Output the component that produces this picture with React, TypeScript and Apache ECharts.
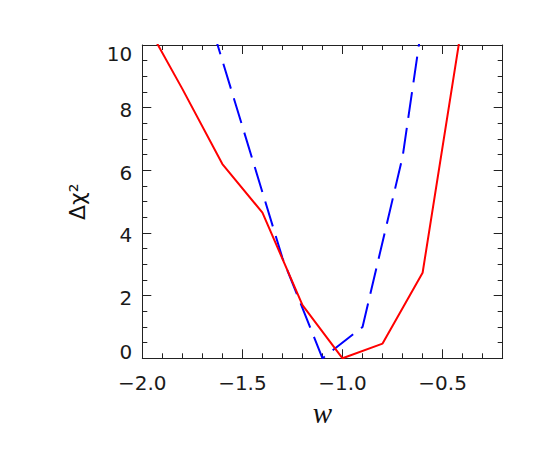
import React, { useEffect, useRef } from "react";
import * as echarts from "echarts";

// Δχ² versus w for two analyses
const redW = [-2.0, -1.8, -1.6, -1.4, -1.2, -1.0, -0.8, -0.6, -0.4];
const redChi2 = [10.9, 8.6, 6.2, 4.65, 1.7, 0.0, 0.47, 2.73, 10.8];
const blueW = [-1.7, -1.5, -1.3, -1.1, -0.9, -0.7, -0.5];
const blueChi2 = [11.6, 7.4, 3.2, 0.0, 1.0, 6.43, 15.2];

const xMin = -2.0;
const xMax = -0.2;
const xMajor = 0.5;
const xMinor = 0.1;
const yMin = 0;
const yMax = 10;
const yMajor = 2;

const axisColor = "#222";
const labelColor = "#1a1a1a";

function fmtX(v: number): string {
  const s = Math.abs(v).toFixed(1);
  return v < 0 ? "\u2212" + s : s;
}

export default function App() {
  const ref = useRef<HTMLDivElement>(null);
  useEffect(() => {
    if (!ref.current) return;
    const chart = echarts.init(ref.current, null, { renderer: "svg" });
    const baseX = {
      type: "value" as const,
      min: xMin,
      max: xMax,
      splitLine: { show: false },
    };
    const baseY = {
      type: "value" as const,
      min: yMin,
      max: yMax,
      interval: yMajor,
      splitLine: { show: false },
    };
    chart.setOption({
      animation: false,
      backgroundColor: "#fff",
      grid: { left: 142.3, right: 42.3, top: 45, bottom: 90.7, containLabel: false },
      xAxis: [
        {
          ...baseX,
          position: "bottom",
          interval: xMajor,
          axisLine: { show: true, lineStyle: { color: axisColor, width: 1 } },
          axisTick: { show: true, inside: true, length: 9, lineStyle: { color: axisColor } },
          axisLabel: {
            show: true,
            margin: 15,
            fontFamily: "DejaVu Sans",
            fontSize: 20,
            color: labelColor,
            showMaxLabel: false,
            formatter: (v: number) => (Math.abs(v - xMax) < 1e-6 ? "" : fmtX(v)),
          },
          name: "w",
          nameLocation: "middle",
          nameGap: 40,
          nameTextStyle: {
            fontFamily: "Liberation Serif",
            fontStyle: "italic",
            fontSize: 29,
            color: "#111",
          },
        },
        {
          ...baseX,
          position: "bottom",
          interval: xMinor,
          axisLine: { show: false },
          axisTick: { show: true, inside: true, length: 5, lineStyle: { color: axisColor } },
          axisLabel: { show: false },
        },
        {
          ...baseX,
          position: "top",
          interval: xMajor,
          axisLine: { show: true, lineStyle: { color: axisColor, width: 1 } },
          axisTick: { show: true, inside: true, length: 9, lineStyle: { color: axisColor } },
          axisLabel: { show: false },
        },
        {
          ...baseX,
          position: "top",
          interval: xMinor,
          axisLine: { show: false },
          axisTick: { show: true, inside: true, length: 5, lineStyle: { color: axisColor } },
          axisLabel: { show: false },
        },
      ],
      yAxis: [
        {
          ...baseY,
          position: "left",
          axisLine: { show: true, lineStyle: { color: axisColor, width: 1 } },
          axisTick: { show: true, inside: true, length: 9, lineStyle: { color: axisColor } },
          minorTick: { show: true, splitNumber: 4, length: 5, lineStyle: { color: axisColor } },
          axisLabel: {
            show: true,
            margin: 10,
            fontFamily: "DejaVu Sans",
            fontSize: 20,
            color: labelColor,
            formatter: (v: number) => {
              if (v === yMax) return "{top|" + v + "}";
              if (v === yMin) return "{bot|" + v + "}";
              return "{mid|" + v + "}";
            },
            rich: {
              top: { fontFamily: "DejaVu Sans", fontSize: 20, color: labelColor, padding: [18, 0, 0, 0] },
              bot: { fontFamily: "DejaVu Sans", fontSize: 20, color: labelColor, padding: [0, 0, 13, 0] },
              mid: { fontFamily: "DejaVu Sans", fontSize: 20, color: labelColor, padding: [5, 0, 0, 0] },
            },
          },
          name: "\u0394\u03c7\u00b2",
          nameLocation: "middle",
          nameRotate: 90,
          nameGap: 54,
          nameTextStyle: {
            fontFamily: "DejaVu Sans",
            fontSize: 22,
            color: "#111",
            padding: [0, 0, 0, 0],
          },
        },
        {
          ...baseY,
          position: "right",
          axisLine: { show: true, lineStyle: { color: axisColor, width: 1 } },
          axisTick: { show: true, inside: true, length: 9, lineStyle: { color: axisColor } },
          minorTick: { show: true, splitNumber: 4, length: 5, lineStyle: { color: axisColor } },
          axisLabel: { show: false },
        },
      ],
      series: [
        {
          type: "line",
          xAxisIndex: 0,
          yAxisIndex: 0,
          data: redW.map((w, i) => [w, redChi2[i]]),
          showSymbol: false,
          symbol: "none",
          clip: true,
          lineStyle: { color: "#ff0000", width: 2 },
          z: 3,
        },
        {
          type: "line",
          xAxisIndex: 0,
          yAxisIndex: 0,
          data: blueW.map((w, i) => [w, blueChi2[i]]),
          showSymbol: false,
          symbol: "none",
          clip: true,
          lineStyle: { color: "#0000ff", width: 2, type: [26, 10] },
          z: 2,
        },
      ],
    });
    return () => chart.dispose();
  }, []);
  return (
    <div
      ref={ref}
      style={{ position: "fixed", left: 0, top: 0, width: 545, height: 449, background: "#fff" }}
    />
  );
}
